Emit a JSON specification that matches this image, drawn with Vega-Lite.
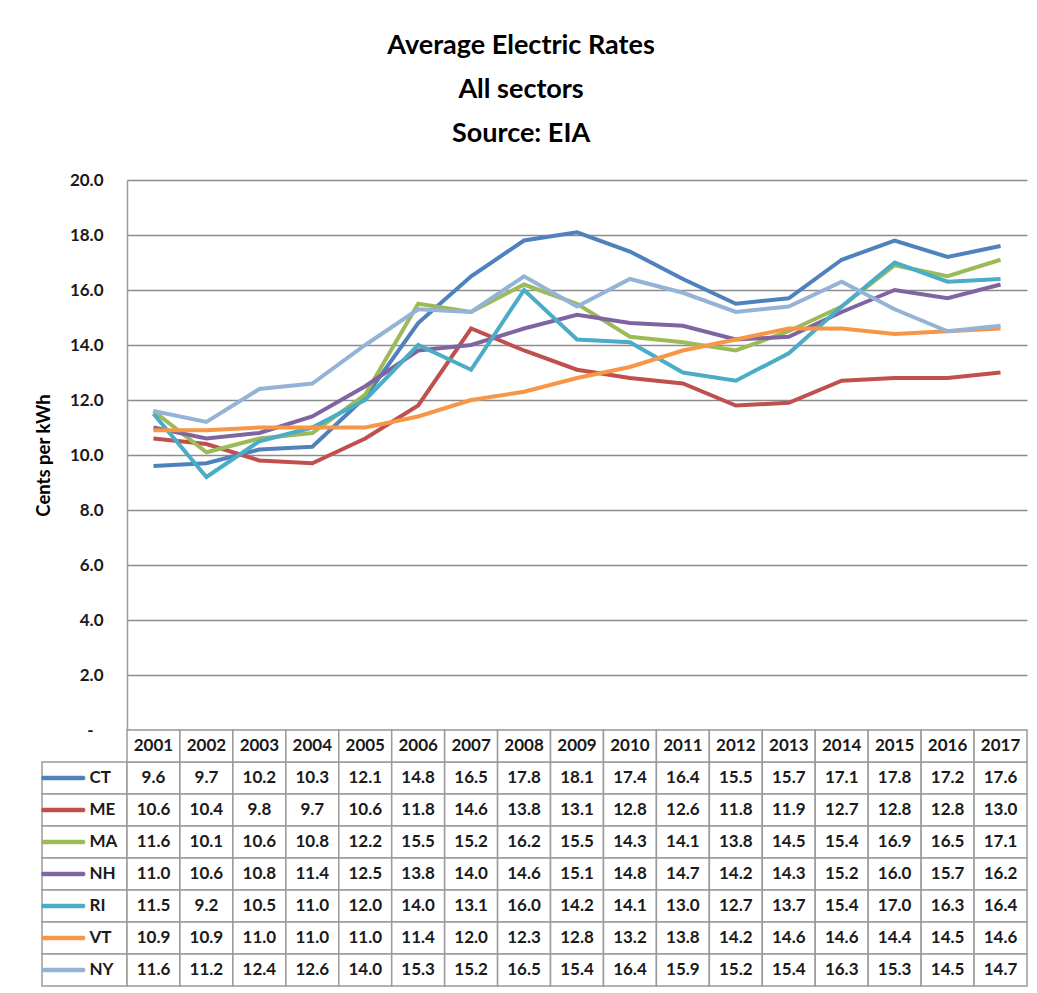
{
  "$schema": "https://vega.github.io/schema/vega-lite/v6.json",
  "padding": {"left": 34, "top": 32, "right": 12, "bottom": 6},
  "background": "white",
  "title": {
    "text": ["Average Electric Rates", "All sectors", "Source: EIA"],
    "font": "Lato",
    "fontSize": 27,
    "fontWeight": "bold",
    "lineHeight": 44,
    "color": "#000000",
    "anchor": "middle",
    "dx": -10,
    "offset": 23
  },
  "config": {
    "view": {"stroke": null},
    "font": "Lato"
  },
  "datasets": {
    "rates": [
      {"state": "CT", "year": "2001", "value": 9.6}, {"state": "CT", "year": "2002", "value": 9.7}, {"state": "CT", "year": "2003", "value": 10.2}, {"state": "CT", "year": "2004", "value": 10.3}, {"state": "CT", "year": "2005", "value": 12.1}, {"state": "CT", "year": "2006", "value": 14.8}, {"state": "CT", "year": "2007", "value": 16.5}, {"state": "CT", "year": "2008", "value": 17.8}, {"state": "CT", "year": "2009", "value": 18.1}, {"state": "CT", "year": "2010", "value": 17.4}, {"state": "CT", "year": "2011", "value": 16.4}, {"state": "CT", "year": "2012", "value": 15.5}, {"state": "CT", "year": "2013", "value": 15.7}, {"state": "CT", "year": "2014", "value": 17.1}, {"state": "CT", "year": "2015", "value": 17.8}, {"state": "CT", "year": "2016", "value": 17.2}, {"state": "CT", "year": "2017", "value": 17.6},
      {"state": "ME", "year": "2001", "value": 10.6}, {"state": "ME", "year": "2002", "value": 10.4}, {"state": "ME", "year": "2003", "value": 9.8}, {"state": "ME", "year": "2004", "value": 9.7}, {"state": "ME", "year": "2005", "value": 10.6}, {"state": "ME", "year": "2006", "value": 11.8}, {"state": "ME", "year": "2007", "value": 14.6}, {"state": "ME", "year": "2008", "value": 13.8}, {"state": "ME", "year": "2009", "value": 13.1}, {"state": "ME", "year": "2010", "value": 12.8}, {"state": "ME", "year": "2011", "value": 12.6}, {"state": "ME", "year": "2012", "value": 11.8}, {"state": "ME", "year": "2013", "value": 11.9}, {"state": "ME", "year": "2014", "value": 12.7}, {"state": "ME", "year": "2015", "value": 12.8}, {"state": "ME", "year": "2016", "value": 12.8}, {"state": "ME", "year": "2017", "value": 13.0},
      {"state": "MA", "year": "2001", "value": 11.6}, {"state": "MA", "year": "2002", "value": 10.1}, {"state": "MA", "year": "2003", "value": 10.6}, {"state": "MA", "year": "2004", "value": 10.8}, {"state": "MA", "year": "2005", "value": 12.2}, {"state": "MA", "year": "2006", "value": 15.5}, {"state": "MA", "year": "2007", "value": 15.2}, {"state": "MA", "year": "2008", "value": 16.2}, {"state": "MA", "year": "2009", "value": 15.5}, {"state": "MA", "year": "2010", "value": 14.3}, {"state": "MA", "year": "2011", "value": 14.1}, {"state": "MA", "year": "2012", "value": 13.8}, {"state": "MA", "year": "2013", "value": 14.5}, {"state": "MA", "year": "2014", "value": 15.4}, {"state": "MA", "year": "2015", "value": 16.9}, {"state": "MA", "year": "2016", "value": 16.5}, {"state": "MA", "year": "2017", "value": 17.1},
      {"state": "NH", "year": "2001", "value": 11.0}, {"state": "NH", "year": "2002", "value": 10.6}, {"state": "NH", "year": "2003", "value": 10.8}, {"state": "NH", "year": "2004", "value": 11.4}, {"state": "NH", "year": "2005", "value": 12.5}, {"state": "NH", "year": "2006", "value": 13.8}, {"state": "NH", "year": "2007", "value": 14.0}, {"state": "NH", "year": "2008", "value": 14.6}, {"state": "NH", "year": "2009", "value": 15.1}, {"state": "NH", "year": "2010", "value": 14.8}, {"state": "NH", "year": "2011", "value": 14.7}, {"state": "NH", "year": "2012", "value": 14.2}, {"state": "NH", "year": "2013", "value": 14.3}, {"state": "NH", "year": "2014", "value": 15.2}, {"state": "NH", "year": "2015", "value": 16.0}, {"state": "NH", "year": "2016", "value": 15.7}, {"state": "NH", "year": "2017", "value": 16.2},
      {"state": "RI", "year": "2001", "value": 11.5}, {"state": "RI", "year": "2002", "value": 9.2}, {"state": "RI", "year": "2003", "value": 10.5}, {"state": "RI", "year": "2004", "value": 11.0}, {"state": "RI", "year": "2005", "value": 12.0}, {"state": "RI", "year": "2006", "value": 14.0}, {"state": "RI", "year": "2007", "value": 13.1}, {"state": "RI", "year": "2008", "value": 16.0}, {"state": "RI", "year": "2009", "value": 14.2}, {"state": "RI", "year": "2010", "value": 14.1}, {"state": "RI", "year": "2011", "value": 13.0}, {"state": "RI", "year": "2012", "value": 12.7}, {"state": "RI", "year": "2013", "value": 13.7}, {"state": "RI", "year": "2014", "value": 15.4}, {"state": "RI", "year": "2015", "value": 17.0}, {"state": "RI", "year": "2016", "value": 16.3}, {"state": "RI", "year": "2017", "value": 16.4},
      {"state": "VT", "year": "2001", "value": 10.9}, {"state": "VT", "year": "2002", "value": 10.9}, {"state": "VT", "year": "2003", "value": 11.0}, {"state": "VT", "year": "2004", "value": 11.0}, {"state": "VT", "year": "2005", "value": 11.0}, {"state": "VT", "year": "2006", "value": 11.4}, {"state": "VT", "year": "2007", "value": 12.0}, {"state": "VT", "year": "2008", "value": 12.3}, {"state": "VT", "year": "2009", "value": 12.8}, {"state": "VT", "year": "2010", "value": 13.2}, {"state": "VT", "year": "2011", "value": 13.8}, {"state": "VT", "year": "2012", "value": 14.2}, {"state": "VT", "year": "2013", "value": 14.6}, {"state": "VT", "year": "2014", "value": 14.6}, {"state": "VT", "year": "2015", "value": 14.4}, {"state": "VT", "year": "2016", "value": 14.5}, {"state": "VT", "year": "2017", "value": 14.6},
      {"state": "NY", "year": "2001", "value": 11.6}, {"state": "NY", "year": "2002", "value": 11.2}, {"state": "NY", "year": "2003", "value": 12.4}, {"state": "NY", "year": "2004", "value": 12.6}, {"state": "NY", "year": "2005", "value": 14.0}, {"state": "NY", "year": "2006", "value": 15.3}, {"state": "NY", "year": "2007", "value": 15.2}, {"state": "NY", "year": "2008", "value": 16.5}, {"state": "NY", "year": "2009", "value": 15.4}, {"state": "NY", "year": "2010", "value": 16.4}, {"state": "NY", "year": "2011", "value": 15.9}, {"state": "NY", "year": "2012", "value": 15.2}, {"state": "NY", "year": "2013", "value": 15.4}, {"state": "NY", "year": "2014", "value": 16.3}, {"state": "NY", "year": "2015", "value": 15.3}, {"state": "NY", "year": "2016", "value": 14.5}, {"state": "NY", "year": "2017", "value": 14.7}
    ]
  },
  "columns": 2,
  "spacing": 0,
  "bounds": "flush",
  "concat": [
    {
      "width": 85,
      "height": 550,
      "data": {"values": []},
      "mark": "point",
      "encoding": {}
    },
    {
      "width": 900,
      "height": 550,
      "data": {"name": "rates"},
      "mark": {"type": "line", "strokeWidth": 4},
      "encoding": {
        "x": {"field": "year", "type": "ordinal", "scale": {"type": "point", "padding": 0.5}, "axis": null},
        "y": {
          "field": "value",
          "type": "quantitative",
          "scale": {"domain": [0, 20], "nice": false, "zero": true},
          "axis": {
            "title": "Cents per kWh",
            "values": [0, 2, 4, 6, 8, 10, 12, 14, 16, 18, 20],
            "labelExpr": "datum.value == 0 ? '-' : format(datum.value, '.1f')",
            "grid": true,
            "gridColor": "#8c8c8c",
            "gridWidth": 1.5,
            "domain": true,
            "domainColor": "#9a9a9a",
            "domainWidth": 1.5,
            "ticks": false,
            "labelFont": "Lato",
            "labelFontSize": 17,
            "labelFontWeight": "bold",
            "labelColor": "#1a1a1a",
            "labelPadding": {"condition": {"test": "datum.value == 0", "value": 34}, "value": 24},
            "titleFont": "Lato",
            "titleFontSize": 18.5,
            "titleFontWeight": "bold",
            "titleColor": "#000000",
            "titlePadding": 16
          }
        },
        "color": {
          "field": "state",
          "type": "nominal",
          "scale": {"domain": ["CT", "ME", "MA", "NH", "RI", "VT", "NY"], "range": ["#4F81BD", "#C0504D", "#9BBB59", "#8064A2", "#4BACC6", "#F79646", "#95B3D7"]},
          "legend": null
        }
      }
    },
    {
      "width": 85,
      "height": 256,
      "data": {"name": "rates"},
      "transform": [{"filter": "datum.year == '2001'"}],
      "encoding": {
        "y": {"field": "state", "type": "nominal", "scale": {"domain": [" ", "CT", "ME", "MA", "NH", "RI", "VT", "NY"], "paddingInner": 0, "paddingOuter": 0}, "axis": null}
      },
      "layer": [
        {"mark": {"type": "rect", "fill": "white", "stroke": "#9a9a9a", "strokeWidth": 1.5}},
        {
          "mark": {"type": "bar", "height": {"band": 0.14}, "width": {"band": 1.04}, "cornerRadius": 2},
          "encoding": {
            "x": {"datum": "sw", "type": "nominal", "scale": {"domain": ["sw", "lab"], "paddingInner": 0, "paddingOuter": 0}, "axis": null},
            "color": {
              "field": "state",
              "type": "nominal",
              "scale": {"domain": ["CT", "ME", "MA", "NH", "RI", "VT", "NY"], "range": ["#4F81BD", "#C0504D", "#9BBB59", "#8064A2", "#4BACC6", "#F79646", "#95B3D7"]},
              "legend": null
            }
          }
        },
        {
          "mark": {"type": "text", "align": "left", "baseline": "middle", "font": "Lato", "fontSize": 17, "fontWeight": "bold", "color": "#1a1a1a", "dx": 5},
          "encoding": {
            "x": {"datum": "lab", "type": "nominal", "bandPosition": 0},
            "text": {"field": "state"}
          }
        }
      ]
    },
    {
      "width": 900,
      "height": 256,
      "data": {"name": "rates"},
      "encoding": {
        "x": {"field": "year", "type": "ordinal", "scale": {"paddingInner": 0, "paddingOuter": 0}, "axis": null}
      },
      "layer": [
        {
          "mark": {"type": "rect", "fill": "white", "stroke": "#9a9a9a", "strokeWidth": 1.5},
          "encoding": {
            "y": {"field": "state", "type": "nominal", "scale": {"domain": [" ", "CT", "ME", "MA", "NH", "RI", "VT", "NY"], "paddingInner": 0, "paddingOuter": 0}, "axis": null}
          }
        },
        {
          "transform": [{"filter": "datum.state == 'CT'"}],
          "mark": {"type": "rect", "fill": "white", "stroke": "#9a9a9a", "strokeWidth": 1.5},
          "encoding": {
            "y": {"datum": " ", "type": "nominal"}
          }
        },
        {
          "mark": {"type": "text", "baseline": "middle", "font": "Lato", "fontSize": 17, "fontWeight": "bold", "color": "#1a1a1a"},
          "encoding": {
            "y": {"field": "state", "type": "nominal"},
            "text": {"field": "value", "type": "quantitative", "format": ".1f"}
          }
        },
        {
          "transform": [{"filter": "datum.state == 'CT'"}],
          "mark": {"type": "text", "baseline": "middle", "font": "Lato", "fontSize": 17, "fontWeight": "bold", "color": "#1a1a1a"},
          "encoding": {
            "y": {"datum": " ", "type": "nominal"},
            "text": {"field": "year"}
          }
        }
      ]
    }
  ]
}
